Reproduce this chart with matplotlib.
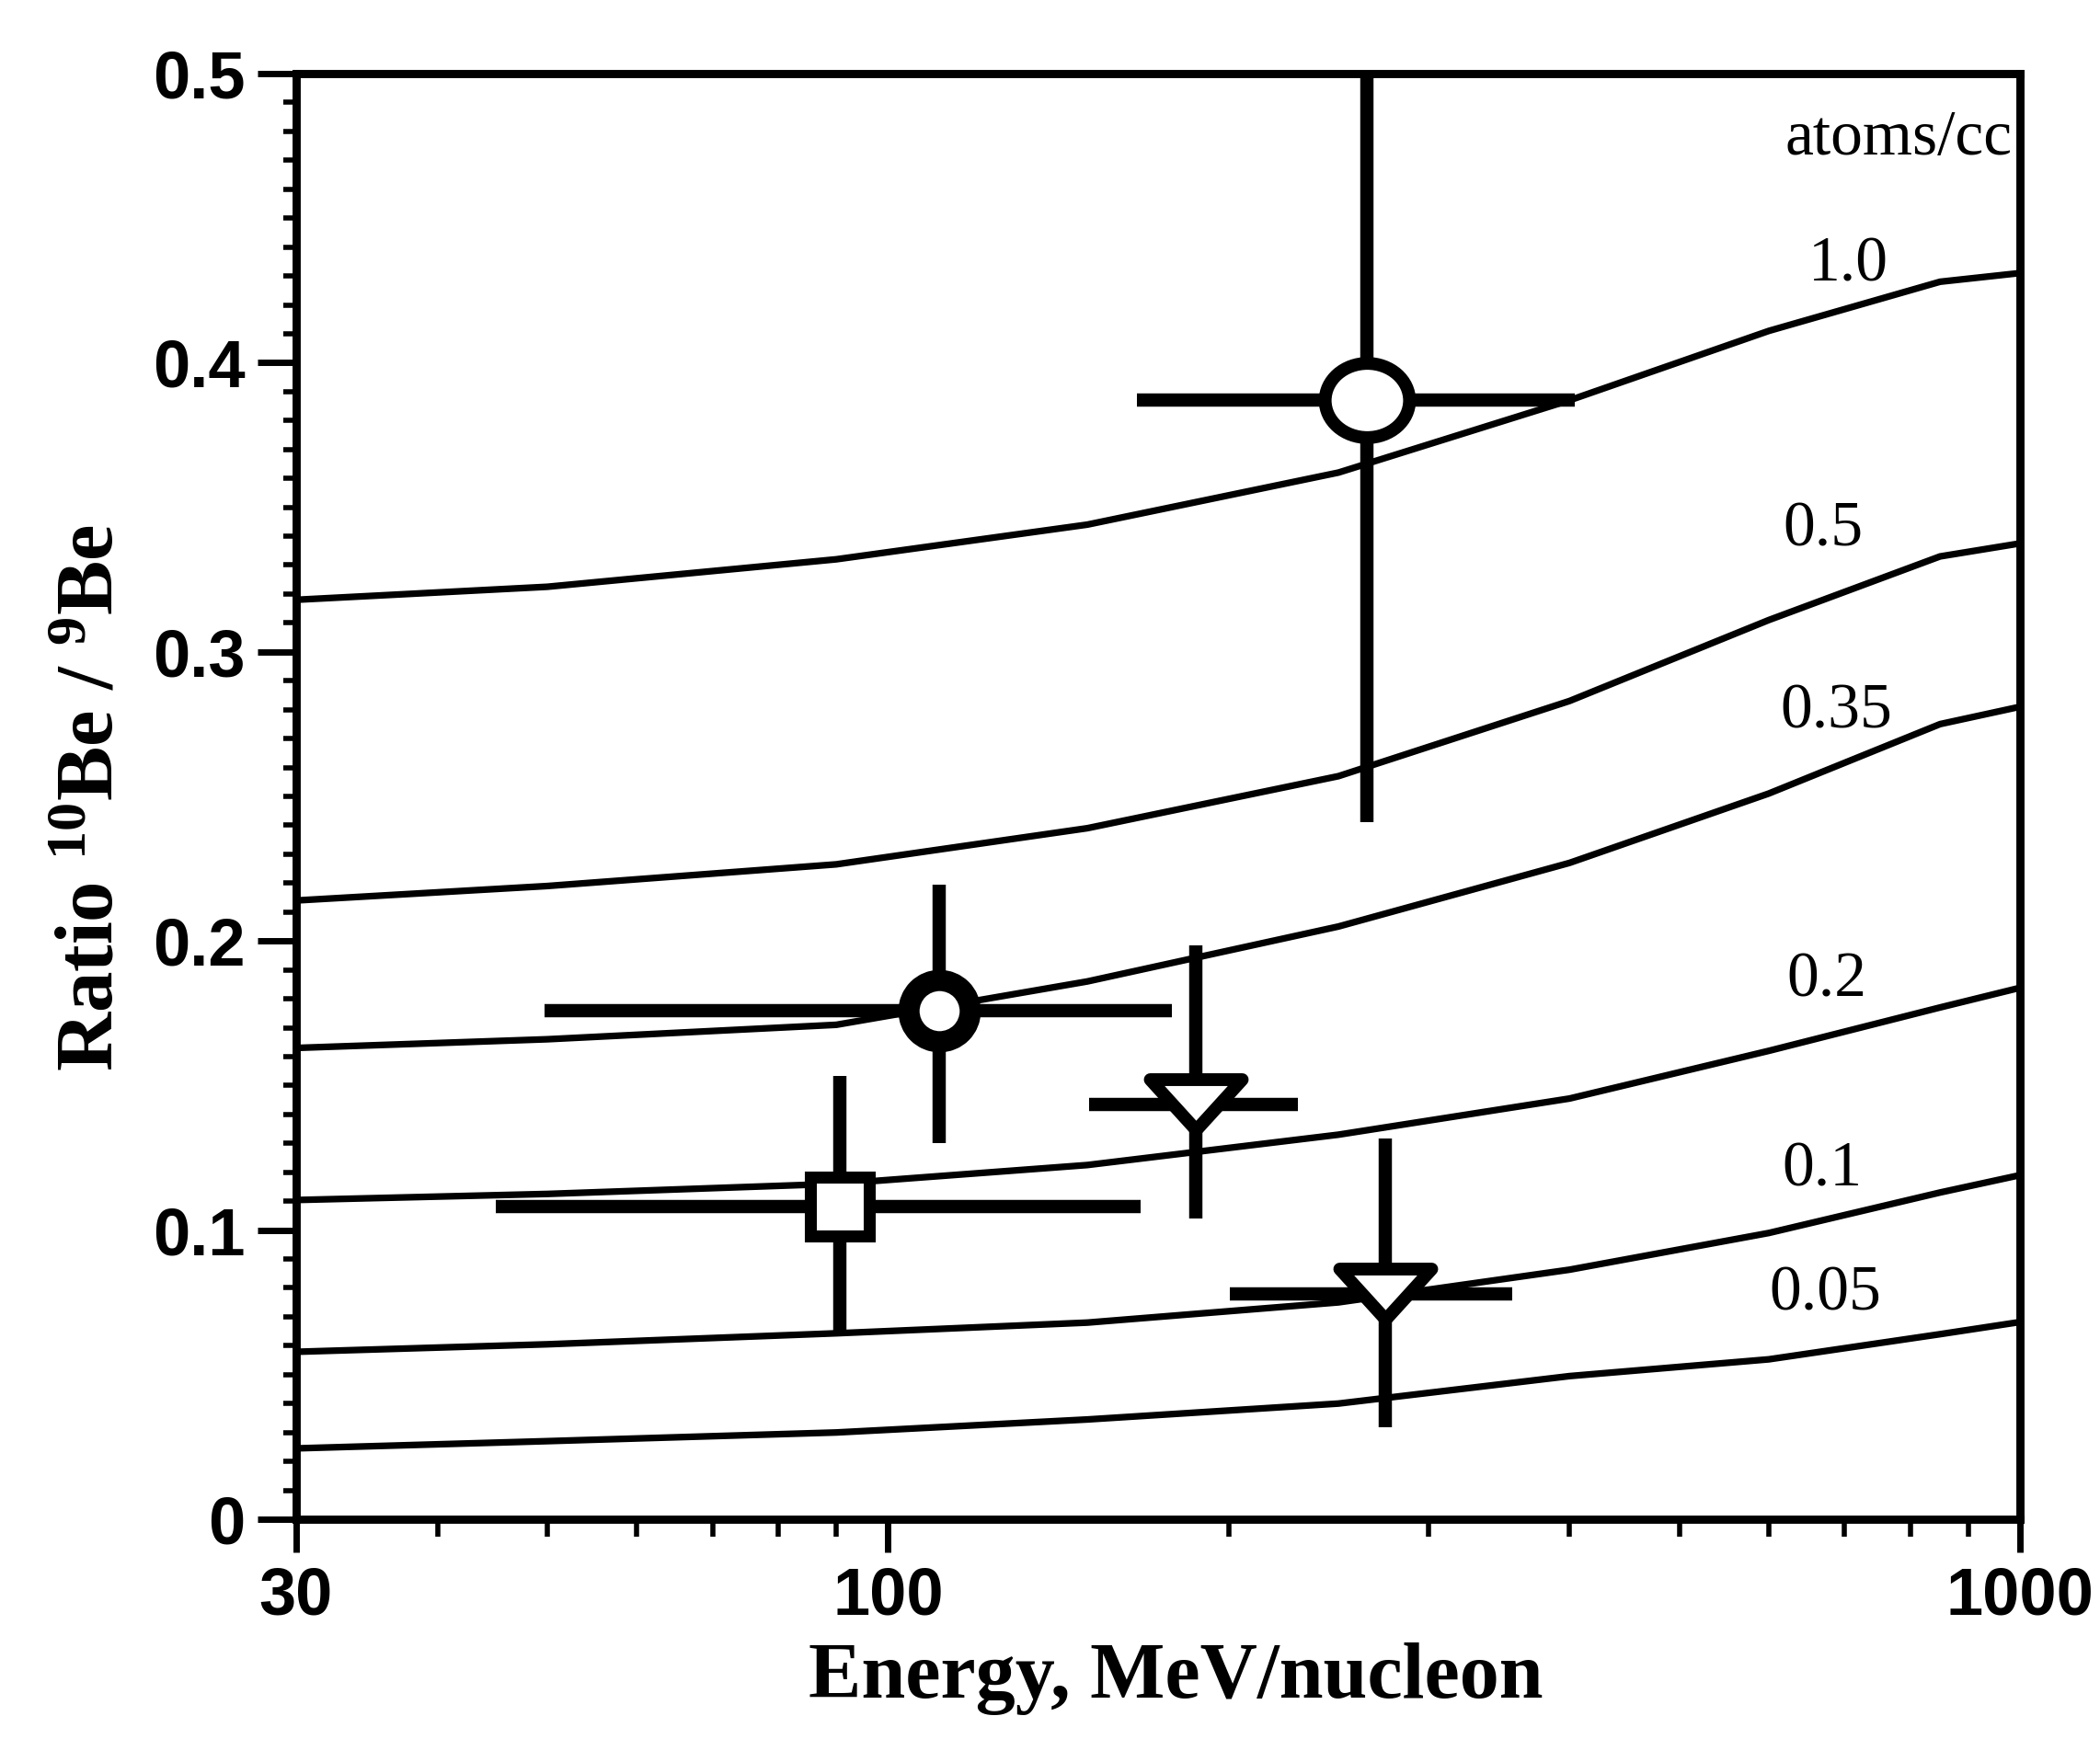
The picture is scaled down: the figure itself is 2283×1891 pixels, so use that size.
import matplotlib
matplotlib.use("Agg")
import matplotlib.pyplot as plt
from matplotlib.path import Path
from matplotlib.transforms import Affine2D
from matplotlib.ticker import FixedLocator, NullFormatter

# model curves: 10Be/9Be ratio vs energy for several gas densities (atoms/cc)
energy = [30, 50, 90, 150, 250, 400, 600, 850, 1000]
density_labels = ["1.0", "0.5", "0.35", "0.2", "0.1", "0.05"]
ratio_1p0 = [0.318, 0.3225, 0.332, 0.344, 0.362, 0.387, 0.411, 0.428, 0.431]
ratio_0p5 = [0.214, 0.219, 0.2265, 0.239, 0.257, 0.283, 0.311, 0.333, 0.3375]
ratio_0p35 = [0.163, 0.166, 0.171, 0.186, 0.205, 0.227, 0.251, 0.275, 0.281]
ratio_0p2 = [0.1104, 0.1125, 0.116, 0.1225, 0.133, 0.1455, 0.162, 0.177, 0.1838]
ratio_0p1 = [0.0579, 0.0605, 0.0643, 0.068, 0.075, 0.0863, 0.099, 0.113, 0.119]
ratio_0p05 = [0.0245, 0.027, 0.030, 0.0345, 0.040, 0.0495, 0.0553, 0.064, 0.0682]
curves = [ratio_1p0, ratio_0p5, ratio_0p35, ratio_0p2, ratio_0p1, ratio_0p05]

# label positions (energy, ratio) for the curve annotations
label_E = [705, 670, 688, 675, 668, 673]
label_R = [0.4335, 0.342, 0.279, 0.186, 0.1205, 0.0777]

# measurements: centre, energy range, ratio range
meas_E = [265, 111, 90.7, 187, 275]
meas_R = [0.387, 0.176, 0.108, 0.1435, 0.0779]
meas_Elo = [166, 49.7, 45, 150.6, 200.6]
meas_Ehi = [404, 178, 167, 230, 356]
meas_Rlo = [0.241, 0.130, 0.0646, 0.104, 0.0318]
meas_Rhi = [0.5, 0.2196, 0.1533, 0.1985, 0.1317]

plt.rcParams["mathtext.fontset"] = "custom"
plt.rcParams["mathtext.rm"] = "Liberation Serif:bold"
plt.rcParams["mathtext.it"] = "Liberation Serif:bold"
plt.rcParams["mathtext.bf"] = "Liberation Serif:bold"
plt.rcParams["mathtext.default"] = "rm"

fig = plt.figure(figsize=(11.415, 9.455), dpi=200)
ax = fig.add_axes([322 / 2283, 1 - 1652 / 1891, 1874 / 2283, 1572 / 1891])

for vals in curves:
    ax.plot(energy, vals, color="black", lw=2.6, zorder=2, solid_capstyle="butt")

for lab, e, r in zip(density_labels, label_E, label_R):
    ax.text(e, r, lab, ha="center", va="center", fontsize=25,
            family="Liberation Serif")
ax.text(985, 0.4774, "atoms/cc", ha="right", va="center", fontsize=25,
        family="Liberation Serif")

# error bars
xerr = [[c - lo for c, lo in zip(meas_E, meas_Elo)],
        [hi - c for c, hi in zip(meas_E, meas_Ehi)]]
yerr = [[c - lo for c, lo in zip(meas_R, meas_Rlo)],
        [hi - c for c, hi in zip(meas_R, meas_Rhi)]]
ax.errorbar(meas_E, meas_R, xerr=xerr, yerr=yerr, fmt="none", ecolor="black",
            elinewidth=5.2, capsize=0, zorder=3)

ellipse = Path.unit_circle().transformed(Affine2D().scale(1.0, 0.88))
tri = Path([(-1, 0.55), (1, 0.55), (0, -0.55), (-1, 0.55)],
           [Path.MOVETO, Path.LINETO, Path.LINETO, Path.CLOSEPOLY])
styles = [(ellipse, 33, 5.0), ("o", 24, 8.3), ("s", 23, 4.7),
          (tri, 36, 5.0), (tri, 36, 5.0)]
for (m, ms, mew), e, r in zip(styles, meas_E, meas_R):
    ax.plot([e], [r], marker=m, ms=ms, mew=mew, mfc="white", mec="black",
            ls="none", zorder=4)

ax.set_xscale("log")
ax.set_xlim(30, 1000)
ax.set_ylim(0, 0.5)
ax.xaxis.set_major_locator(FixedLocator([30, 100, 1000]))
ax.set_xticklabels(["30", "100", "1000"])
ax.xaxis.set_minor_locator(FixedLocator([40, 50, 60, 70, 80, 90,
                                         200, 300, 400, 500, 600, 700, 800, 900]))
ax.xaxis.set_minor_formatter(NullFormatter())
ax.set_yticks([0, 0.1, 0.2, 0.3, 0.4, 0.5])
ax.set_yticklabels(["0", "0.1", "0.2", "0.3", "0.4", "0.5"])
ax.set_yticks([i / 100 for i in range(51)], minor=True)

ax.tick_params(axis="both", which="both", direction="out", top=False, right=False)
ax.tick_params(axis="y", which="major", length=15, width=2.5, pad=5)
ax.tick_params(axis="y", which="minor", length=5, width=2.0)
ax.tick_params(axis="x", which="major", length=13, width=2.5, pad=5)
ax.tick_params(axis="x", which="minor", length=7, width=2.0)
for lab in ax.get_xticklabels() + ax.get_yticklabels():
    lab.set_family("Liberation Sans")
    lab.set_fontweight("bold")
    lab.set_fontsize(26)
for sp in ax.spines.values():
    sp.set_linewidth(3.2)

fig.text(0.560, 0.024, "Energy, MeV/nucleon", ha="center", va="baseline",
         fontsize=31, fontweight="bold", family="Liberation Serif")
fig.text(0.0438, 0.541, r"Ratio $^{10}$Be / $^{9}$Be", ha="center", va="center",
         rotation=90, fontsize=32, fontweight="bold", family="Liberation Serif")

fig.savefig("out.png", dpi=200, facecolor="white")
